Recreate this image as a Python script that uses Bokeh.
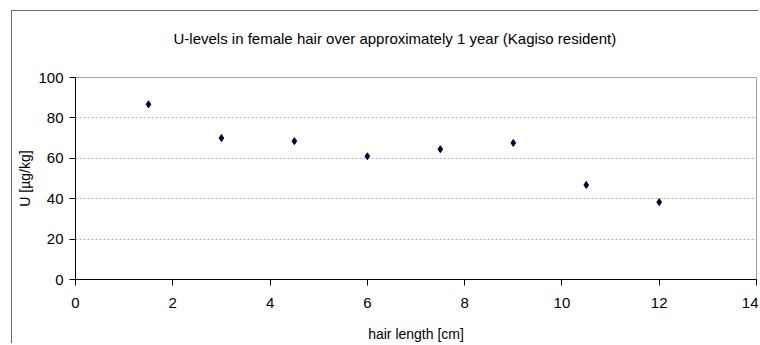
from bokeh.plotting import figure
from bokeh.models import Title, Range1d, FixedTicker
from bokeh.embed import file_html
from bokeh.resources import INLINE

hair_length = [1.5, 3, 4.5, 6, 7.5, 9, 10.5, 12]
u_level = [86.7, 70, 68.5, 61, 64.5, 67.6, 46.8, 38.3]
x_ticks = [0, 2, 4, 6, 8, 10, 12, 14]
y_ticks = [0, 20, 40, 60, 80, 100]
title_text = "U-levels in female hair over approximately 1 year (Kagiso resident)"

FONT = "Liberation Sans"

p = figure(width=747, height=333, output_backend="svg", toolbar_location=None,
           x_range=Range1d(0, 14), y_range=Range1d(0, 100),
           min_border_left=63, min_border_top=66, min_border_right=3, min_border_bottom=61,
           margin=(10, 0, 0, 11),
           styles={"border-left": "1px solid #6a6a6a", "border-top": "1px solid #6a6a6a"})

p.scatter(hair_length, u_level, marker="diamond", size=7, color="#00004d")

p.outline_line_color = "#a0a0a0"
p.outline_line_width = 1
p.xgrid.grid_line_color = None
p.ygrid.grid_line_color = "#b0b0b0"
p.ygrid.grid_line_dash = "2 2"

p.xaxis.ticker = FixedTicker(ticks=x_ticks)
p.yaxis.ticker = FixedTicker(ticks=y_ticks)
for ax in (p.xaxis[0], p.yaxis[0]):
    ax.major_tick_out = 6
    ax.major_tick_in = 0
    ax.minor_tick_out = 0
    ax.minor_tick_in = 0
    ax.axis_line_color = "black"
    ax.major_tick_line_color = "black"
    ax.major_label_text_font = FONT
    ax.major_label_text_font_size = "15px"
    ax.major_label_text_color = "black"
    ax.axis_label_text_font = FONT
    ax.axis_label_text_font_size = "14px"
    ax.axis_label_text_font_style = "normal"
    ax.axis_label_text_color = "black"

p.xaxis.axis_label = "hair length [cm]"
p.yaxis.axis_label = "U [µg/kg]"
p.xaxis.major_label_standoff = 12
p.xaxis.axis_label_standoff = 15
p.yaxis.major_label_standoff = 6
p.yaxis.axis_label_standoff = 2

# spacer title (empty) to lift the real title away from the frame
p.add_layout(Title(text=" ", text_font=FONT, text_font_size="12px"), "above")
p.add_layout(Title(text=title_text, align="left", offset=98,
                   text_font=FONT, text_font_size="15px",
                   text_font_style="normal", text_color="black"), "above")

open("out.html", "w").write(file_html(p, INLINE))
